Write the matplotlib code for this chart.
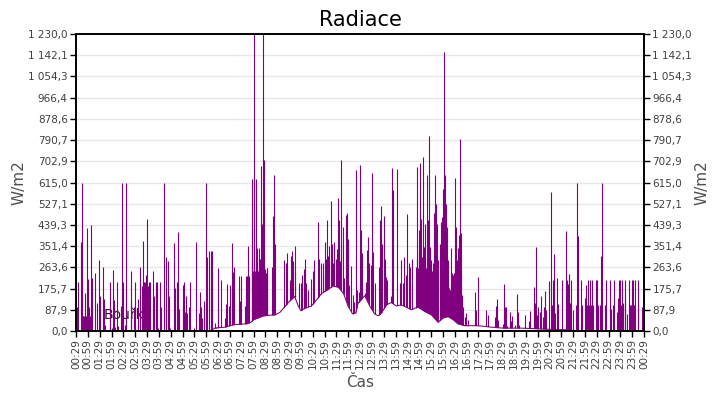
import matplotlib
matplotlib.use('Agg')
import matplotlib.pyplot as plt
import numpy as np

# time axis: minutes since 00:29, one day
tick_labels = ['00:29', '00:59', '01:29', '01:59', '02:29', '02:59', '03:29', '03:59',
               '04:29', '04:59', '05:29', '05:59', '06:29', '06:59', '07:29', '07:59',
               '08:29', '08:59', '09:29', '09:59', '10:29', '10:59', '11:29', '11:59',
               '12:29', '12:59', '13:29', '13:59', '14:29', '14:59', '15:29', '15:59',
               '16:29', '16:59', '17:29', '17:59', '18:29', '18:59', '19:29', '19:59',
               '20:29', '20:59', '21:29', '21:59', '22:29', '22:59', '23:29', '23:59',
               '00:29']

# slowly varying level under the spikes (W/m2)
base_min = [0, 340, 352, 378, 399, 433, 443, 450, 475, 505, 517, 530, 543, 554, 564, 570,
            581, 597, 610, 623, 640, 652, 665, 678, 690, 701, 709, 715, 732, 745, 757,
            766, 774, 787, 799, 812, 825, 837, 850, 867, 884, 901, 918, 930, 943, 956,
            968, 985, 1019, 1053, 1082, 1126, 1159, 1202, 1244, 1278, 1440]
base_val = [0, 0, 12, 16, 26, 30, 36, 47, 63, 67, 77, 102, 126, 143, 102, 84,
            95, 104, 129, 156, 173, 187, 181, 156, 102, 71, 74, 115, 146, 102, 71,
            63, 74, 108, 118, 104, 108, 99, 88, 99, 81, 67, 36, 54, 60, 47,
            30, 22, 22, 16, 12, 12, 10, 7, 5, 0, 0]

# short peaks (W/m2)
spike_min = [3, 6, 13, 16, 18, 19, 21, 22, 23, 24, 26, 28, 29, 30, 31, 33, 34, 35, 37, 39,
             40, 41, 49, 52, 59, 62, 69, 72, 74, 85, 87, 90, 95, 97, 100, 105, 107, 113,
             116, 118, 123, 126, 128, 139, 140, 148, 150, 156, 158, 161, 168, 171, 173,
             176, 178, 181, 183, 186, 188, 194, 196, 199, 204, 206, 209, 213, 216, 224,
             227, 229, 234, 237, 239, 249, 252, 257, 259, 261, 270, 272, 275, 277, 280,
             282, 287, 290, 300, 305, 311, 314, 318, 320, 325, 330, 333, 336, 341, 343,
             346, 353, 356,
             359, 361, 368, 378, 380, 384, 388, 390, 396, 399, 401, 414, 417, 419, 428,
             431, 434, 437, 439, 445, 446, 447, 448, 449, 450, 451, 452, 453, 454, 455,
             456, 457, 458, 459, 460, 461, 462, 463, 464, 465, 466, 467, 468, 469, 470,
             471, 472, 473, 474, 475, 476, 477, 478, 479, 480, 481, 482, 483, 484, 485,
             498, 500, 503, 505, 527, 532, 536, 543, 546, 548, 551, 554, 556, 566, 571,
             574, 579, 581, 584, 589, 595, 600, 603, 614, 617, 620, 625, 627, 630, 635,
             637, 640, 642, 646, 649, 652, 654, 658, 661, 664, 667, 669, 672, 673, 676,
             680, 685, 688, 690, 693, 697, 701, 706, 711, 713, 717, 719,
             721, 723, 726, 732, 736, 739, 741, 744, 747, 750, 753, 757, 768, 771, 773,
             776, 781, 783, 786, 788, 799, 802, 804, 815, 822, 825, 830, 832, 837, 840,
             843, 846, 848, 851, 863, 864, 865, 867, 869, 870, 871, 873, 874, 875, 877,
             878, 879, 880, 882, 883, 884, 886, 887, 889, 890, 892, 893, 894, 896, 897,
             898, 899, 901, 903, 904, 906, 907, 909, 910, 912, 913, 914, 916, 917, 922,
             925, 927, 929, 930, 931, 933, 934, 935, 936, 938, 939, 941, 942, 943, 946,
             948, 950, 951, 954, 955, 957, 958, 959, 961, 962, 963, 964, 966, 967, 968,
             969, 970, 972, 973, 974, 975, 977, 978, 979, 980, 982, 985, 988, 994, 1011,
             1013, 1020, 1039, 1044, 1063, 1066, 1068, 1071,
             1082, 1086, 1088, 1091, 1093, 1101, 1104, 1106, 1114, 1119, 1121, 1124, 1139,
             1149, 1152, 1162, 1164, 1167, 1169, 1172, 1177, 1180, 1185, 1187, 1190, 1192,
             1200, 1205, 1207, 1210, 1213, 1215, 1220, 1223, 1233, 1243, 1245, 1248, 1251,
             1253, 1256, 1261, 1268, 1271, 1273, 1281, 1284, 1291, 1294, 1296, 1299, 1301,
             1304, 1306, 1309, 1311, 1319, 1322, 1324, 1329, 1332, 1334, 1342, 1344, 1355,
             1357, 1362, 1365, 1371, 1373, 1376, 1378, 1381, 1383, 1386, 1388, 1391, 1393,
             1398, 1401, 1404, 1406, 1409, 1411, 1414, 1416, 1424, 1426, 1434]
spike_val = [101, 205, 370, 615, 64, 64, 64, 157, 64, 64, 64, 64, 425, 64, 215, 64, 101, 64, 64, 439,
             64, 220, 240, 118, 293, 147, 264, 132, 25, 205, 101, 11, 253, 129, 18, 205, 21, 105,
             615, 205, 25, 615, 171, 122, 247, 101, 205, 53, 132, 264, 185, 372, 205,
             205, 230, 464, 187, 205, 205, 122, 247, 143, 205, 205, 11, 205, 101, 615,
             305, 101, 291, 147, 11, 365, 180, 205, 410, 90, 189, 101, 205, 80, 147,
             74, 101, 205, 11, 370, 76, 160, 101, 53, 126, 615, 305, 333, 268, 330,
             330, 32, 18,
             97, 260, 211, 54, 113, 195, 104, 191, 363, 243, 264, 228, 126, 228, 104,
             228, 228, 351, 228, 428, 300, 630, 250, 240, 630, 260, 1230, 250, 230, 232,
             280, 630, 240, 300, 342, 250, 225, 260, 230, 342, 300, 260, 685, 280, 240,
             445, 300, 472, 260, 1230, 250, 709, 240, 230, 258, 240, 220, 260, 240, 260,
             264, 475, 648, 360, 294, 280, 325, 210, 310, 330, 290, 350, 240, 200, 200,
             230, 255, 300, 200, 170, 215, 250, 295, 450, 300, 280, 240, 280, 370, 300,
             460, 310, 350, 540, 360, 280, 370, 300, 340, 550, 460, 290, 355, 710, 430,
             220, 480, 490, 380, 190, 270, 150, 120, 665, 170, 160, 130,
             688, 417, 321, 156, 205, 335, 390, 280, 273, 654, 328, 198, 266, 459, 518,
             362, 475, 300, 225, 211, 143, 674, 582, 670, 198, 294, 198, 308, 232, 486,
             280, 190, 266, 300, 266, 300, 678, 260, 417, 330, 695, 489, 280, 465, 300,
             308, 260, 722, 280, 349, 300, 445, 260, 648, 320, 390, 459, 280, 809, 300,
             349, 260, 294, 250, 239, 280, 489, 648, 300, 527, 260, 445, 200, 294, 362,
             452, 472, 280, 590, 350, 1156, 400, 644, 320, 527, 260, 431, 220, 294, 180,
             170, 200, 342, 239, 200, 232, 180, 239, 260, 633, 300, 431, 250, 294, 220,
             342, 240, 397, 300, 794, 250, 406, 150, 115, 100, 80, 60, 74, 47, 163,
             88, 225, 88, 67, 60, 102, 132, 47,
             29, 193, 101, 101, 22, 79, 43, 64, 26, 152, 78, 26, 68,
             43, 81, 182, 118, 348, 68, 99, 78, 147, 60, 101, 165, 85,
             206, 574, 106, 210, 318, 74, 218, 110, 210, 414, 210, 196, 235,
             115, 210, 89, 106, 615, 393, 210, 106, 136, 192, 106, 210, 106,
             210, 106, 210, 106, 210, 210, 106, 106, 310, 615, 106, 210, 210,
             92, 106, 210, 78, 138, 210, 210, 106, 210, 115, 106, 140, 210,
             71, 210, 106, 106, 210, 210, 106, 210, 106, 210, 99]

purple = '#800080'
ymax = 1230.0
yticks = np.linspace(0, ymax, 15)

def fmt(v):
    return f'{v:,.1f}'.replace(',', ' ').replace('.', ',')

fig = plt.figure(figsize=(7.2, 4.0), dpi=100)
ax = fig.add_axes([76 / 720, 1 - 331 / 400, 568 / 720, 297 / 400])

ax.vlines(spike_min, 0, spike_val, color=purple, lw=0.8, zorder=2)
ax.fill_between(base_min, 0, base_val, color='white', lw=0, zorder=3)
ax.plot(base_min, base_val, color=purple, lw=0.75, zorder=4)

ax.text(0.049, 0.04, 'Bouřka', transform=ax.transAxes, fontsize=10, color='#222222', zorder=1)

ax.set_xlim(0, 1440)
ax.set_ylim(0, ymax)
ax.set_xticks(np.arange(0, 1441, 30))
ax.set_xticklabels(tick_labels, rotation=90, fontsize=7.5, color='#404040')
ax.set_yticks(yticks)
ax.set_yticklabels([fmt(v) for v in yticks], fontsize=7.5, color='#404040')
ax.tick_params(axis='both', direction='out', length=4, width=1, pad=2)
ax.grid(axis='y', color='#e8e8e8', lw=1, zorder=0)
ax.set_axisbelow(True)
for s in ax.spines.values():
    s.set_zorder(5)
    s.set_linewidth(1.2)

ax2 = ax.twinx()
ax2.set_ylim(0, ymax)
ax2.set_yticks(yticks)
ax2.set_yticklabels([fmt(v) for v in yticks], fontsize=7.5, color='#404040')
ax2.tick_params(axis='y', direction='out', length=4, width=1, pad=2)
for s in ax2.spines.values():
    s.set_linewidth(1.2)

ax.set_title('Radiace', fontsize=15, pad=6)
ax.set_xlabel('Čas', fontsize=11, color='#505050', labelpad=4)
ax.set_ylabel('W/m2', fontsize=11, color='#505050', labelpad=1)
ax2.set_ylabel('W/m2', fontsize=11, color='#505050', labelpad=2, rotation=90)

fig.savefig('out.png', dpi=100)
